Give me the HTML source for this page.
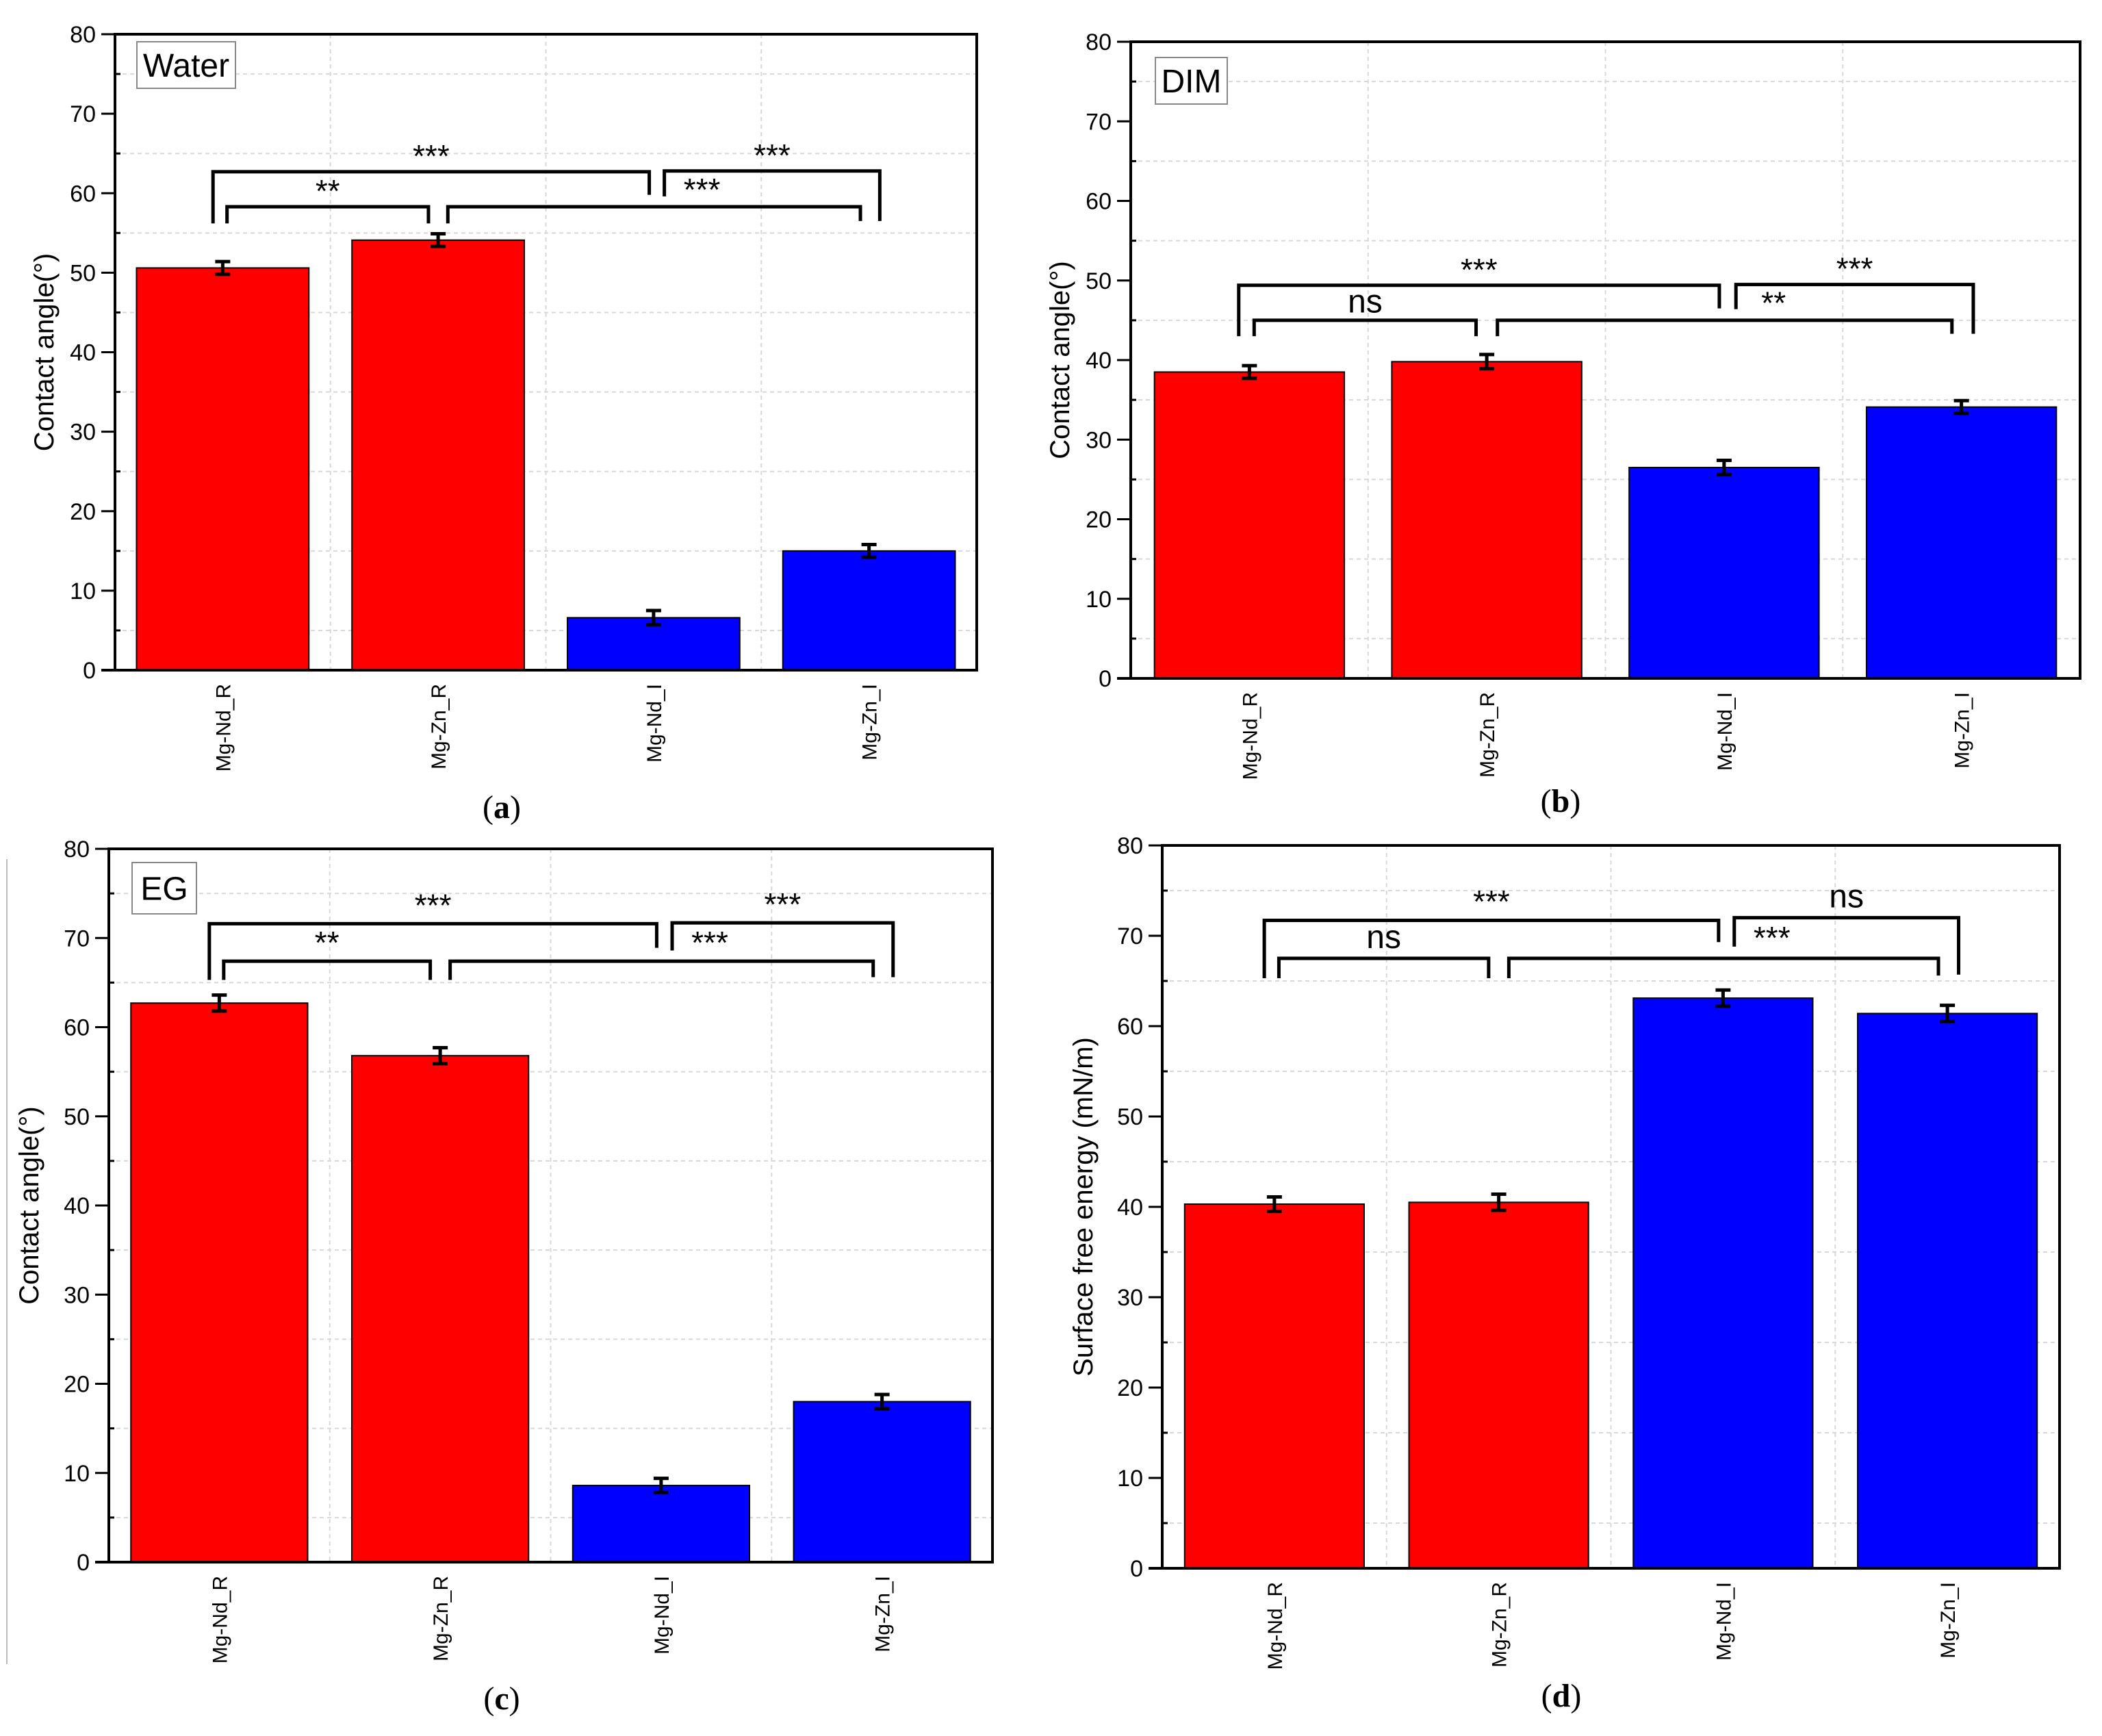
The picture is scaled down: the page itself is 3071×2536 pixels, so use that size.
<!DOCTYPE html>
<html><head><meta charset="utf-8"><style>
html,body{margin:0;padding:0;background:#fff}
svg{display:block}
text{font-family:"Liberation Sans",Arial,sans-serif}
text.serif{font-family:"Liberation Serif","Times New Roman",serif}
</style></head><body>
<svg id="fig" width="3071" height="2536" viewBox="0 0 3071 2536" xmlns="http://www.w3.org/2000/svg"></svg>
<script>
const categories = ["Mg-Nd_R","Mg-Zn_R","Mg-Nd_I","Mg-Zn_I"];
const barColors = ["#ff0000","#ff0000","#0000ff","#0000ff"];
const yTicks = [0,10,20,30,40,50,60,70,80];
const waterValues = [50.6,54.1,6.6,15.0];
const waterErrors = [0.8,0.8,0.9,0.8];
const dimValues = [38.5,39.8,26.5,34.1];
const dimErrors = [0.8,0.9,0.9,0.8];
const egValues = [62.7,56.8,8.6,18.0];
const egErrors = [0.9,0.9,0.8,0.8];
const sfeValues = [40.3,40.5,63.1,61.4];
const sfeErrors = [0.8,0.9,0.9,0.9];
const waterBr = [62.7,56.2,59.8,58.3,56.2,62.8,59.6,56.5];
const dimBr = [49.4,43.0,46.5,45.0,43.0,49.5,46.4,43.3];
const egBr = [71.6,65.3,68.9,67.4,65.3,71.7,68.6,65.6];
const sfeBr = [71.7,65.3,69.3,67.5,65.3,72.0,68.8,65.7];
const waterSig = ["***","**","***","***"];
const dimSig = ["***","ns","***","**"];
const egSig = ["***","**","***","***"];
const sfeSig = ["***","ns","ns","***"];

const NS="http://www.w3.org/2000/svg";
const svg=document.getElementById('fig');
function mk(tag,attrs,parent,txt){const e=document.createElementNS(NS,tag);for(const k in attrs)e.setAttribute(k,attrs[k]);if(txt!==undefined)e.textContent=txt;(parent||svg).appendChild(e);return e;}

function panel(o){
  const g=mk('g',{});
  
  
  const L=o.l,R=o.r,T=o.t,B=o.b;
  const yS=v=>B-(v/80)*(B-T);
  const step=(R-L)/categories.length;
  const xC=i=>L+step*(i+0.5);
  for(let v=5;v<80;v+=10){const ln=mk('line',{x1:L,x2:R,y1:yS(v),y2:yS(v),stroke:'#d8d8d8','stroke-width':2,'stroke-dasharray':'6,5'},g);
    }
  for(let i=1;i<categories.length;i++){const ln=mk('line',{x1:L+step*i,x2:L+step*i,y1:T,y2:B,stroke:'#d8d8d8','stroke-width':2,'stroke-dasharray':'6,5'},g);
    }
  o.vals.forEach((v,i)=>{
    const w=step*0.8;
    const r=mk('rect',{x:xC(i)-w/2,y:yS(v),width:w,height:B-yS(v),fill:barColors[i],stroke:'#000','stroke-width':2},g);
    
    
    const e=o.errs[i];
    const eb=mk('path',{d:`M${xC(i)-11},${yS(v+e)}H${xC(i)+11}M${xC(i)},${yS(v+e)}V${yS(v-e)}M${xC(i)-11},${yS(v-e)}H${xC(i)+11}`,stroke:'#000','stroke-width':5,fill:'none'},g);
    
    
  });
  const fr=mk('rect',{x:L,y:T,width:R-L,height:B-T,fill:'none',stroke:'#000','stroke-width':4},g);
  
  mk('line',{x1:L-20,x2:L,y1:B,y2:B,stroke:'#000','stroke-width':4},g);
  yTicks.forEach(v=>{
    mk('line',{x1:L-20,x2:L,y1:yS(v),y2:yS(v),stroke:'#000','stroke-width':3},g);
    if(v<80) mk('line',{x1:L,x2:L+8,y1:yS(v+5),y2:yS(v+5),stroke:'#000','stroke-width':3},g);
    const t=mk('text',{x:L-28,y:yS(v)+12,'text-anchor':'end','font-size':34,fill:'#000'},g,String(v));
    
  });
  const yc=(T+B)/2;
  const yt=mk('text',{x:o.ytx,y:yc,'text-anchor':'middle','font-size':40,transform:`rotate(-90 ${o.ytx} ${yc})`,fill:'#000'},g,o.ytitle);
  
  categories.forEach((c,i)=>{
    const x=xC(i)+11,y=B+20;
    const t=mk('text',{x:x,y:y,'text-anchor':'end','font-size':30,transform:`rotate(-90 ${x} ${y})`,fill:'#000'},g,c);
    
  });
  const br=o.br,s=o.sig;
  const c=i=>xC(i);
  const bx=(i,f)=>c(i)+f*step;
  const p=[
    `M${bx(0,-0.045)},${yS(br[1])}V${yS(br[0])}H${bx(2,-0.02)}V${yS(br[2])}`,
    `M${bx(0,0.02)},${yS(br[4])}V${yS(br[3])}H${bx(1,-0.045)}V${yS(br[4])}`,
    `M${bx(1,0.045)},${yS(br[4])}V${yS(br[3])}H${bx(3,-0.04)}V${yS(br[4]+0.3)}`,
    `M${bx(2,0.05)},${yS(br[6])}V${yS(br[5])}H${bx(3,0.05)}V${yS(br[7])}`
  ];
  p.forEach(d=>{const e=mk('path',{d:d,stroke:'#000','stroke-width':5,fill:'none'},g);
    });
  const lab=(txt,x,v)=>{const big=txt==='ns';
    const t=mk('text',{x:x,y:yS(v)+(big?14:28),'text-anchor':'middle','font-size':big?48:46,fill:'#000'},g,txt);
    };
  lab(s[0],(bx(0,-0.045)+bx(2,-0.02))/2,br[0]+3.0);
  lab(s[1],(bx(0,0.02)+bx(1,-0.045))/2,br[3]+(s[1]==='ns'?2.2:3.0));
  lab(s[2],(bx(2,0.05)+bx(3,0.05))/2,br[5]+(s[2]==='ns'?2.2:3.0));
  lab(s[3],bx(2,0.05)+55,br[5]-1.3);
  if(o.leg){const lg=o.leg;
    const r=mk('rect',{x:lg[0],y:lg[1],width:lg[2],height:lg[3],fill:'#fff',stroke:'#888','stroke-width':2},g);
    
    const t=mk('text',{x:lg[0]+lg[2]/2,y:lg[1]+lg[3]/2+17,'text-anchor':'middle','font-size':48,fill:'#000'},g,o.legText);
    }
  const pl=mk('text',{x:o.pl[0],y:o.pl[1],'text-anchor':'middle','font-size':48,'class':'serif',fill:'#000'},g);
  
  mk('tspan',{},pl,'(');mk('tspan',{'font-weight':'bold'},pl,o.plabel);mk('tspan',{},pl,')');
}

panel({name:'panel-a-water',l:168,r:1427,t:50,b:979,vals:waterValues,errs:waterErrors,br:waterBr,sig:waterSig,ytitle:'Contact angle(°)',ytx:78,leg:[200,61,144,68],legText:'Water',pl:[733,1195],plabel:'a'});
panel({name:'panel-b-dim',l:1652,r:3039,t:61,b:991,vals:dimValues,errs:dimErrors,br:dimBr,sig:dimSig,ytitle:'Contact angle(°)',ytx:1562,leg:[1688,84,105,68],legText:'DIM',pl:[2280,1186],plabel:'b'});
panel({name:'panel-c-eg',l:159,r:1450,t:1240,b:2282,vals:egValues,errs:egErrors,br:egBr,sig:egSig,ytitle:'Contact angle(°)',ytx:56,leg:[193,1260,94,75],legText:'EG',pl:[733,2497],plabel:'c'});
panel({name:'panel-d-sfe',l:1698,r:3009,t:1235,b:2291,vals:sfeValues,errs:sfeErrors,br:sfeBr,sig:sfeSig,ytitle:'Surface free energy (mN/m)',ytx:1596,leg:null,pl:[2281,2493],plabel:'d'});
const sep=mk('line',{x1:10,x2:10,y1:1255,y2:2431,stroke:'#bbb','stroke-width':2});


</script>
</body></html>
